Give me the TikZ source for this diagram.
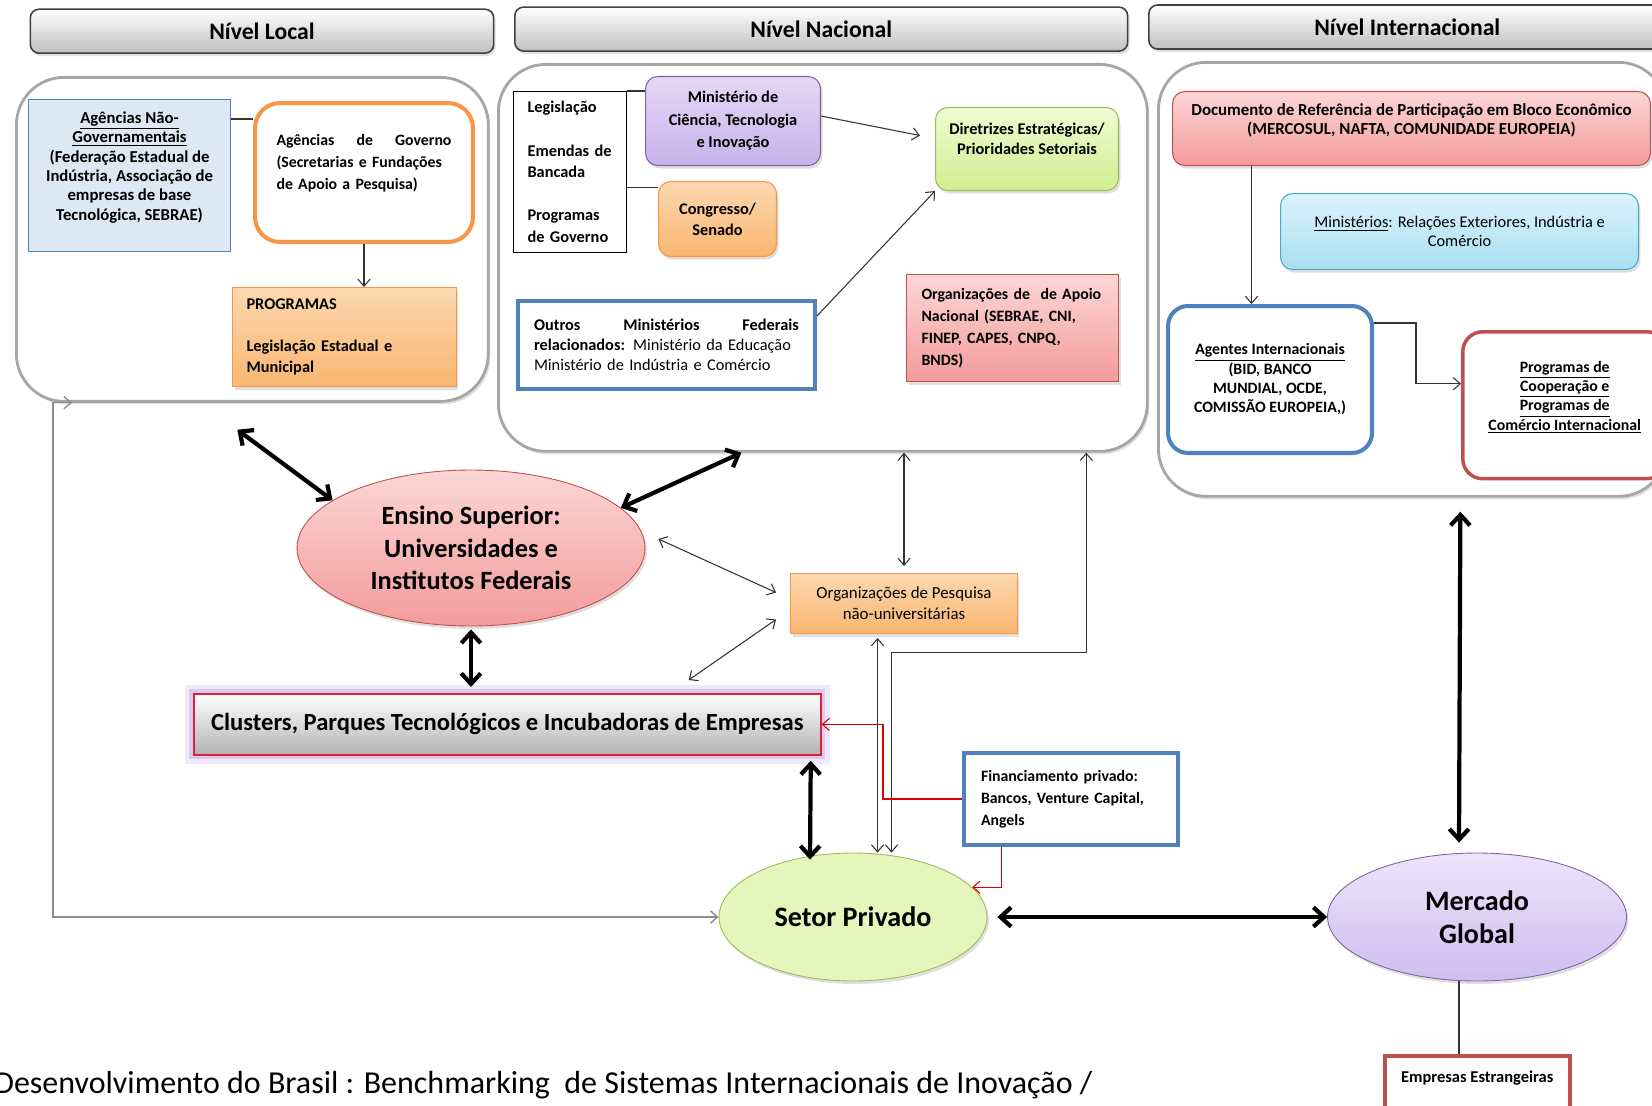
\documentclass[tikz,border=0pt]{standalone}
\usepackage{fontspec}
\setmainfont{Carlito}
\usetikzlibrary{arrows.meta,shadows,shapes.geometric}

\definecolor{bluebd}{RGB}{79,129,189}
\definecolor{blueft}{RGB}{220,232,244}
\definecolor{orangebd}{RGB}{247,150,70}
\definecolor{orangetop}{RGB}{252,216,176}
\definecolor{orangebot}{RGB}{249,182,112}
\definecolor{purplebd}{RGB}{128,100,162}
\definecolor{purpletop}{RGB}{228,216,246}
\definecolor{purplebot}{RGB}{198,178,234}
\definecolor{greenbd}{RGB}{155,187,89}
\definecolor{greentop}{RGB}{240,251,210}
\definecolor{greenbot}{RGB}{207,238,145}
\definecolor{redbd}{RGB}{192,80,77}
\definecolor{pinktop}{RGB}{252,214,214}
\definecolor{pinkbot}{RGB}{243,155,155}
\definecolor{cyanbd}{RGB}{75,172,198}
\definecolor{cyantop}{RGB}{220,243,251}
\definecolor{cyanbot}{RGB}{168,223,243}
\definecolor{setorfill}{RGB}{228,246,188}
\definecolor{mercadotop}{RGB}{236,228,250}
\definecolor{mercadobot}{RGB}{206,190,240}
\definecolor{clusterred}{RGB}{225,30,60}
\definecolor{glow}{RGB}{165,135,220}

\begin{document}
\begin{tikzpicture}[x=0.02cm, y=-0.02cm]
	\tikzstyle{level} = [draw=black!35, line width=1.6pt, fill=white, rounded corners=0.95cm, anchor=north west]
	\tikzstyle{soft} = [drop shadow={opacity=0.25, shadow xshift=0.04cm, shadow yshift=-0.06cm}]
	\tikzstyle{header} = [draw=black!75, line width=0.9pt, rounded corners=5pt, top color=white, bottom color=black!25, anchor=north west, minimum height=0.88cm, font=\bfseries\fontsize{13.5}{15}\selectfont, soft]
	\tikzstyle{box} = [anchor=north west, align=center, inner sep=2pt, line width=0.6pt, font=\bfseries\fontsize{9.5}{11}\selectfont]
	\tikzstyle{link} = [draw=black!80, line width=0.6pt, >={Straight Barb[length=4pt,width=7pt]}]
	\tikzstyle{greylink} = [link, draw=black!45, line width=0.8pt]
	\tikzstyle{redlink} = [link, draw=red!85!black, ->]
	\tikzstyle{heavy} = [draw=black, line width=2.4pt, <->, >={Straight Barb[length=6pt,width=11pt]}]
	\useasboundingbox (0,0) rectangle (1652,1105);

	\node [level, soft, minimum width=9.44cm, minimum height=6.48cm] (local) at (15,76) {};
	\node [level, soft, minimum width=12.98cm, minimum height=7.74cm] (nacional) at (497,63) {};
	\node [level, soft, minimum width=10.16cm, minimum height=8.68cm] (internacional) at (1157,61) {};

	\node [header, minimum width=9.27cm] (hlocal) at (29.5,8.4) {Nível Local};
	\node [header, minimum width=12.26cm] (hnacional) at (514,6.3) {Nível Nacional};
	\node [header, minimum width=10.34cm] (hinter) at (1148,4.2) {Nível Internacional};

	\node [box, draw=bluebd, fill=blueft, minimum width=4.04cm, minimum height=3.04cm] (ngov) at (28,99) {\underline{Agências Não-}\\\underline{Governamentais}\\(Federação Estadual de\\Indústria, Associação de\\empresas de base\\Tecnológica, SEBRAE)\\\mbox{}};
	\node [box, draw=orangebd, fill=white, line width=2.3pt, rounded corners=0.5cm, minimum width=4.36cm, minimum height=2.78cm, text width=3.5cm, align=left, font=\bfseries\fontsize{9}{12.5}\selectfont] (gov) at (253,101) {Agências\hfill de\hfill Governo\\(Secretarias e Fundações\\de Apoio a Pesquisa)\\\mbox{}};
	\node [box, draw=orangebd, top color=orangetop, bottom color=orangebot, soft, minimum width=4.48cm, minimum height=1.98cm, text width=3.92cm, align=left, font=\bfseries\fontsize{9.3}{12}\selectfont] (progloc) at (232,287) {PROGRAMAS\\\mbox{}\\Legislação Estadual e\\Municipal};

	\node [box, draw=black, fill=white, minimum width=2.26cm, minimum height=3.22cm, text width=1.7cm, align=left, font=\bfseries\fontsize{9.3}{12.3}\selectfont] (legis) at (513,91) {Legislação\\\mbox{}\\Emendas de\\Bancada\\\mbox{}\\Programas\\de Governo};
	\node [box, draw=purplebd, top color=purpletop, bottom color=purplebot, rounded corners=7pt, soft, minimum width=3.5cm, minimum height=1.78cm, font=\bfseries\fontsize{9.3}{12.8}\selectfont] (mcti) at (645,76) {Ministério de\\Ciência, Tecnologia\\e Inovação};
	\node [box, draw=orangebd, top color=orangetop, bottom color=orangebot, rounded corners=7pt, soft, minimum width=2.36cm, minimum height=1.5cm, font=\bfseries\fontsize{9.3}{12}\selectfont] (congresso) at (658,181) {Congresso/\\Senado};
	\node [box, draw=bluebd, fill=white, line width=2.3pt, minimum width=5.94cm, minimum height=1.76cm, text width=5.3cm, align=left, font=\bfseries\fontsize{9.3}{11.4}\selectfont] (outros) at (516,299) {Outros\hfill Ministérios\hfill Federais\\relacionados: {\mdseries Ministério da Educação}\\{\mdseries Ministério de Indústria e Comércio}};
	\node [box, draw=greenbd, top color=greentop, bottom color=greenbot, rounded corners=7pt, soft, minimum width=3.66cm, minimum height=1.66cm, font=\bfseries\fontsize{9.3}{11.4}\selectfont] (diretrizes) at (935,107) {Diretrizes Estratégicas/\\Prioridades Setoriais\\\mbox{}};
	\node [box, draw=redbd, top color=pinktop, bottom color=pinkbot, soft, minimum width=4.24cm, minimum height=2.14cm, text width=3.64cm, align=left, font=\bfseries\fontsize{9}{12.4}\selectfont] (apoio) at (906,274) {Organizações de\ \ de Apoio\\Nacional (SEBRAE, CNI,\\FINEP, CAPES, CNPQ,\\BNDS)};

	\node [box, draw=redbd, top color=pinktop, bottom color=pinkbot, rounded corners=7pt, soft, minimum width=9.56cm, minimum height=1.48cm, font=\bfseries\fontsize{9.6}{10.8}\selectfont] (documento) at (1172,91) {Documento de Referência de Participação em Bloco Econômico\\(MERCOSUL, NAFTA, COMUNIDADE EUROPEIA)\\\mbox{}};
	\node [box, draw=cyanbd, top color=cyantop, bottom color=cyanbot, rounded corners=7pt, soft, minimum width=7.16cm, minimum height=1.52cm, font=\fontsize{9.3}{10.8}\selectfont] (minint) at (1280,193) {\underline{Ministérios}: Relações Exteriores, Indústria e\\Comércio};
	\node [box, draw=bluebd, fill=white, line width=2.3pt, rounded corners=0.4cm, minimum width=4.08cm, minimum height=2.94cm, font=\bfseries\fontsize{9}{11}\selectfont] (agentes) at (1166,304) {\underline{Agentes Internacionais}\\(BID, BANCO\\MUNDIAL, OCDE,\\COMISSÃO EUROPEIA,)};
	\node [box, draw=redbd, fill=white, line width=2pt, rounded corners=0.4cm, minimum width=4.08cm, minimum height=2.94cm, font=\bfseries\fontsize{9}{11}\selectfont] (cooperacao) at (1461,330) {\underline{Programas de}\\\underline{Cooperação e}\\\underline{Programas de}\\\underline{Comércio Internacional}\\\mbox{}};

	\node [ellipse, draw=redbd, line width=0.5pt, top color=pinktop, bottom color=pinkbot, soft, minimum width=6.96cm, minimum height=3.12cm, inner sep=0pt, align=center, font=\bfseries\fontsize{15}{18.5}\selectfont] (ensino) at (471,548) {Ensino Superior:\\Universidades e\\Institutos Federais};
	\node [box, draw=clusterred, line width=1pt, top color=white, bottom color=black!30, preaction={draw=glow, line width=10pt, opacity=0.18}, preaction={draw=glow, line width=5pt, opacity=0.3}, minimum width=12.54cm, minimum height=1.22cm, font=\bfseries\fontsize{14}{16}\selectfont] (clusters) at (193,693) {Clusters, Parques Tecnológicos e Incubadoras de Empresas};
	\node [box, draw=orangebd, top color=orangetop, bottom color=orangebot, soft, minimum width=4.54cm, minimum height=1.2cm, font=\fontsize{9.6}{12}\selectfont] (pesquisa) at (790,573) {Organizações de Pesquisa\\não-universitárias};
	\node [box, draw=bluebd, fill=white, line width=2.3pt, minimum width=4.28cm, minimum height=1.84cm, text width=3.6cm, align=left, font=\bfseries\fontsize{9}{12.6}\selectfont] (financiamento) at (962,751) {Financiamento privado:\\Bancos, Venture Capital,\\Angels};
	\node [ellipse, draw=greenbd, line width=0.5pt, fill=setorfill, soft, minimum width=5.36cm, minimum height=2.56cm, inner sep=0pt, font=\bfseries\fontsize{16}{18}\selectfont] (setor) at (853,917) {Setor Privado};
	\node [ellipse, draw=purplebd, line width=0.5pt, top color=mercadotop, bottom color=mercadobot, soft, minimum width=5.98cm, minimum height=2.56cm, inner sep=0pt, align=center, font=\bfseries\fontsize{16}{18.5}\selectfont] (mercado) at (1477,917) {Mercado\\Global};
	\node [box, draw=redbd, fill=white, line width=2pt, minimum width=3.7cm, minimum height=1.22cm, font=\bfseries\fontsize{9.4}{11}\selectfont] (estrangeiras) at (1383,1054) {Empresas Estrangeiras\\\mbox{}};

	\node [anchor=base west, inner sep=0pt, font=\fontsize{18.2}{21}\selectfont] (fonte) at (-6,1093) {Desenvolvimento do Brasil : Benchmarking\ \ de Sistemas Internacionais de Inovação /};

	\draw [link] ([yshift=-0.4cm]ngov.north east) -- ([yshift=-0.4cm]ngov.north east -| gov.west);
	\draw [link,->] (gov.south) -- (gov.south |- progloc.north);
	\draw [link] (legis.north east) -- (legis.north east -| mcti.west);
	\draw [link] ([yshift=-0.31cm]legis.east) -- ([yshift=-0.31cm]legis.east -| congresso.west);
	\draw [link,->] ([yshift=0.1cm]mcti.east) to ([xshift=-0.3cm,yshift=0.27cm]diretrizes.west);
	\draw [link,->] ([yshift=-0.34cm]outros.north east) to (diretrizes.south west);
	\draw [link,->] ([xshift=-3.2cm]documento.south) -- ([xshift=-3.2cm]documento.south |- agentes.north);
	\draw [link,->] ([yshift=1.13cm]agentes.east) -- ++(42,0) |- ([yshift=0.43cm]cooperacao.west);
	\draw [link] ([xshift=-0.36cm]mercado.south) -- ([xshift=-0.36cm]mercado.south |- estrangeiras.north);

	\draw [heavy] ([xshift=-0.3cm,yshift=-0.54cm]local.south) -- (ensino.161);
	\draw [heavy] ([xshift=-1.63cm]nacional.south) -- (ensino.15);
	\draw [heavy] ([yshift=-0.06cm]ensino.south) -- ([yshift=0.12cm]ensino.south |- clusters.north);
	\draw [heavy] ([xshift=6.07cm,yshift=-0.1cm]clusters.south) -- ([xshift=-0.86cm,yshift=-0.14cm]setor.north);
	\draw [heavy] ([xshift=0.2cm]setor.east) -- (mercado.west);
	\draw [heavy] ([xshift=0.96cm,yshift=-0.28cm]internacional.south) -- ([xshift=-0.36cm,yshift=0.2cm]mercado.north);

	\draw [link,<->] ([xshift=0.26cm,yshift=0.18cm]ensino.east) -- ([xshift=-0.28cm,yshift=0.22cm]pesquisa.west);
	\draw [link,<->] ([xshift=-2.66cm,yshift=0.26cm]clusters.north east) -- ([xshift=-0.28cm,yshift=-0.32cm]pesquisa.west);
	\draw [link,<->] (pesquisa.north |- nacional.south) -- ([yshift=0.14cm]pesquisa.north);
	\draw [link,<->] ([xshift=-0.53cm,yshift=-0.08cm]pesquisa.south) -- ([xshift=-0.53cm]pesquisa.south |- setor.north);
	\draw [link,<->] ([xshift=-0.25cm]pesquisa.south |- setor.north) -- ++(0,-200) -| ([xshift=5.27cm]nacional.south);
	\draw [redlink] (financiamento.west) -- ++(-79,0) |- (clusters.east);
	\draw [redlink] ([xshift=-1.4cm]financiamento.south) |- (setor.14);
	\draw [greylink,<->] ([xshift=1.14cm]local.south west) -- ++(-19,0) |- (setor.west);
\end{tikzpicture}
\end{document}
